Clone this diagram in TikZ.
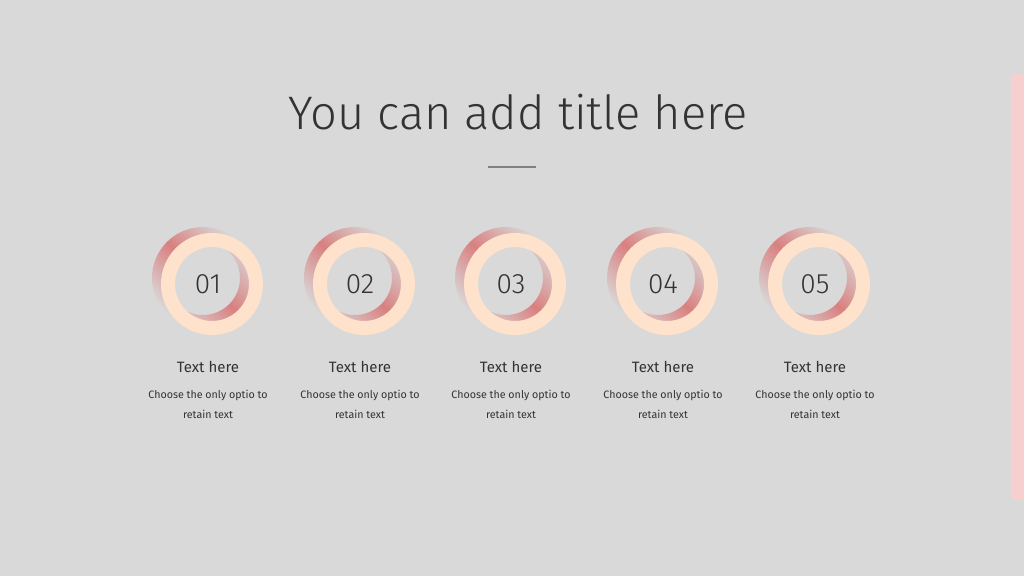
\documentclass[tikz,border=0pt]{standalone}
\usepackage{fontspec}
\setmainfont{Fira Sans}[UprightFont=* Light]
\newfontfamily\headfont{Fira Sans}
\usetikzlibrary{positioning}

\definecolor{slidebg}{HTML}{D9D9D9}
\definecolor{peach}{HTML}{FEE2CC}
\definecolor{glowred}{HTML}{D98080}
\definecolor{pinkbar}{HTML}{F7CFCF}
\definecolor{ink}{HTML}{333333}

\begin{document}
\begin{tikzpicture}[x=1pt,y=-1pt,
    ring/.style={fill=peach, even odd rule},
    glow/.style={even odd rule, top color=slidebg, bottom color=slidebg,
      middle color=glowred, shading angle=-45},
    titletext/.style={text=ink, anchor=base, font=\fontsize{47}{54}\selectfont},
    number/.style={text=ink, anchor=base, font=\fontsize{28}{32}\selectfont},
    head/.style={text=ink, anchor=base, font=\headfont\fontsize{15}{18}\selectfont},
    desc/.style={text=ink, align=center, font=\headfont\fontsize{10.7}{20}\selectfont}]

  \useasboundingbox (0,0) rectangle (1024,576);
  \fill[slidebg] (0,0) rectangle (1024,576);
  \fill[pinkbar] (1011,74) rectangle (1024,500);

  \node[titletext] (title) at (518,129) {You can add title here};
  \draw[gray, line width=1.5pt] (488,167) -- (536,167);

  \foreach \i/\x in {1/208,2/360,3/511,4/663,5/815} {
    \shade[glow] (\x-5,278) circle (51) (\x-5,278) circle (37);
    \fill[ring] (\x+4,284) circle (51) (\x+4,284) circle (37);
    \node[number] (num\i) at (\x,293) {0\i};
    \node[head] (head\i) at (\x,372) {Text here};
    \node[desc] (desc\i) at (\x,404) {Choose the only optio to\\retain text};
  }
\end{tikzpicture}
\end{document}
